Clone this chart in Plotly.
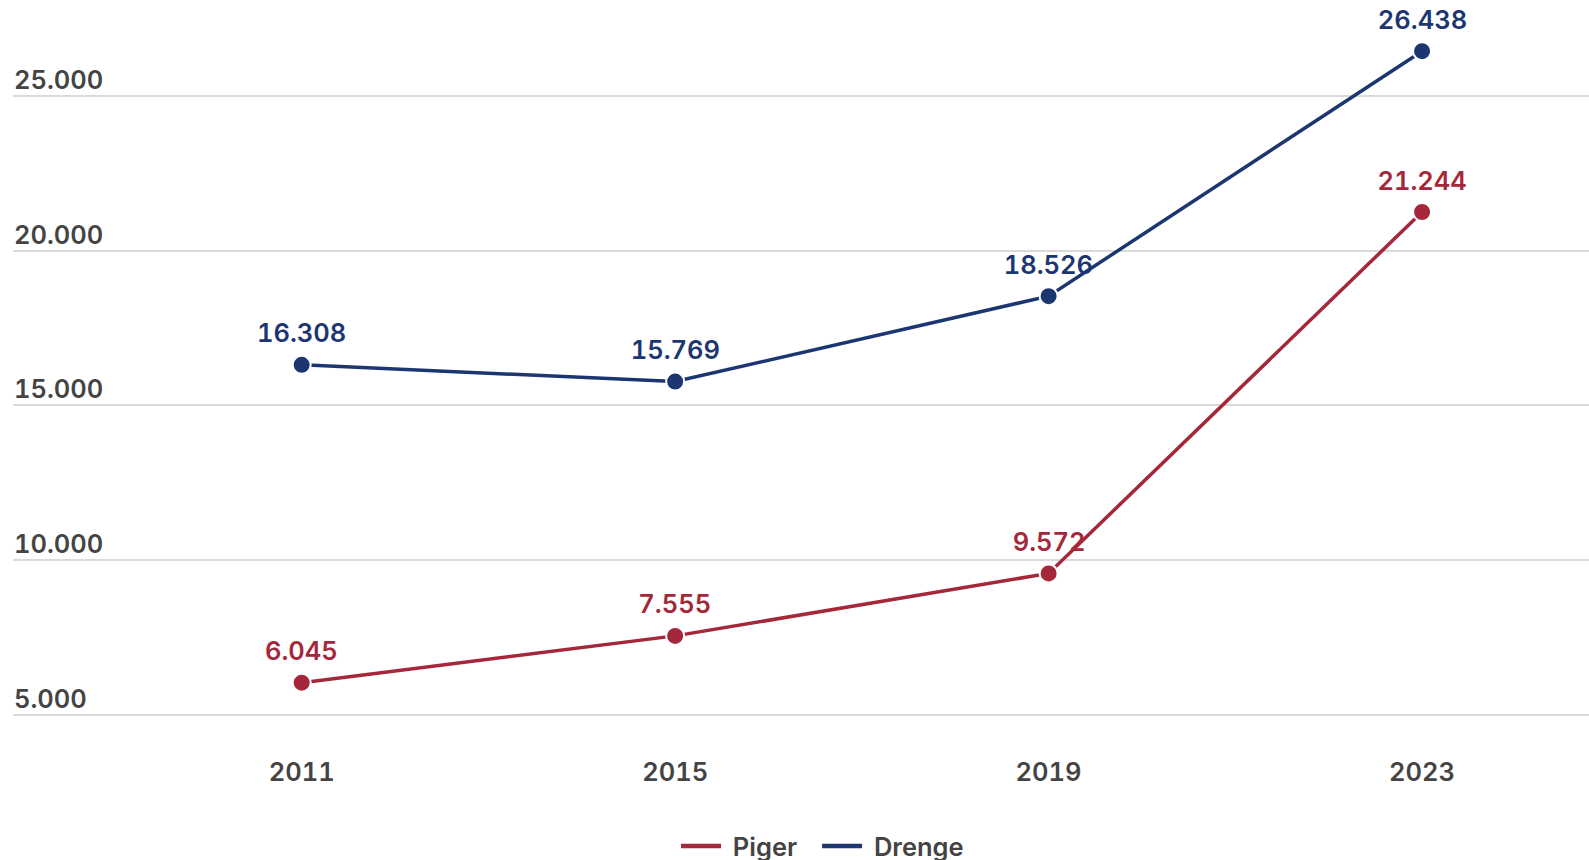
import plotly.graph_objects as go

years = ["2011", "2015", "2019", "2023"]
piger = [6045, 7555, 9572, 21244]
drenge = [16308, 15769, 18526, 26438]
y_ticks = [5000, 10000, 15000, 20000, 25000]

RED = "#A4273A"
BLUE = "#1C3671"
FONT = "Inter"
FS = 25.5
GREY = "#444444"


def fmt(v):
    return f"{v:,}".replace(",", ".")


fig = go.Figure()
for name, vals, col in [("Piger", piger, RED), ("Drenge", drenge, BLUE)]:
    fig.add_trace(go.Scatter(
        x=years, y=vals, name=name, mode="lines+markers",
        line=dict(color=col, width=3.5),
        marker=dict(color=col, size=18, line=dict(color="white", width=2)),
        cliponaxis=False, hoverinfo="skip", showlegend=False,
    ))
    for i, v in enumerate(vals):
        fig.add_annotation(x=i, y=v, xref="x", yref="y", text=fmt(v), showarrow=False, yshift=32,
                           font=dict(family=FONT, size=FS, color=col, weight=600))
for name, col, lg in [("Piger", RED, "legend"), ("Drenge", BLUE, "legend2")]:
    fig.add_trace(go.Scatter(
        x=[None], y=[None], name=" " + name, mode="lines", legend=lg,
        line=dict(color=col, width=4.5), hoverinfo="skip", showlegend=True,
    ))

leg_common = dict(orientation="h", xanchor="left", y=-0.136, yanchor="middle",
                  font=dict(family=FONT, size=FS, color=GREY, weight=600),
                  itemwidth=40, bgcolor="rgba(0,0,0,0)", borderwidth=0)

fig.update_layout(
    width=1589, height=860,
    margin=dict(l=13, r=0, t=0, b=115, autoexpand=False),
    paper_bgcolor="white", plot_bgcolor="white",
    font=dict(family=FONT, size=FS, color=GREY, weight=600),
    showlegend=True,
    legend=dict(x=0.4207, **leg_common),
    legend2=dict(x=0.5102, **leg_common),
    xaxis=dict(type="category", range=[-0.773, 3.447], showgrid=False, zeroline=False,
               showline=False, ticks="", ticklabelstandoff=9, automargin=False,
               tickfont=dict(family=FONT, size=FS, color=GREY, weight=600)),
    yaxis=dict(range=[4031, 28091], tickvals=y_ticks, ticktext=[fmt(v) for v in y_ticks],
               ticklabelposition="inside top", ticklabelshift=2, ticklabelstandoff=-2,
               showgrid=True, gridcolor="#DADADA", gridwidth=1.5,
               zeroline=False, showline=False, ticks="", automargin=False,
               tickfont=dict(family=FONT, size=FS, color=GREY, weight=600)),
)

post = (
    "document.body.style.margin='0';document.body.style.overflow='hidden';"
    "var s=document.createElement('style');"
    "s.textContent='svg text{font-feature-settings:\"tnum\" 1;}';"
    "document.head.appendChild(s);"
)
fig.write_html("out.html", post_script=post, config={"displayModeBar": False})
